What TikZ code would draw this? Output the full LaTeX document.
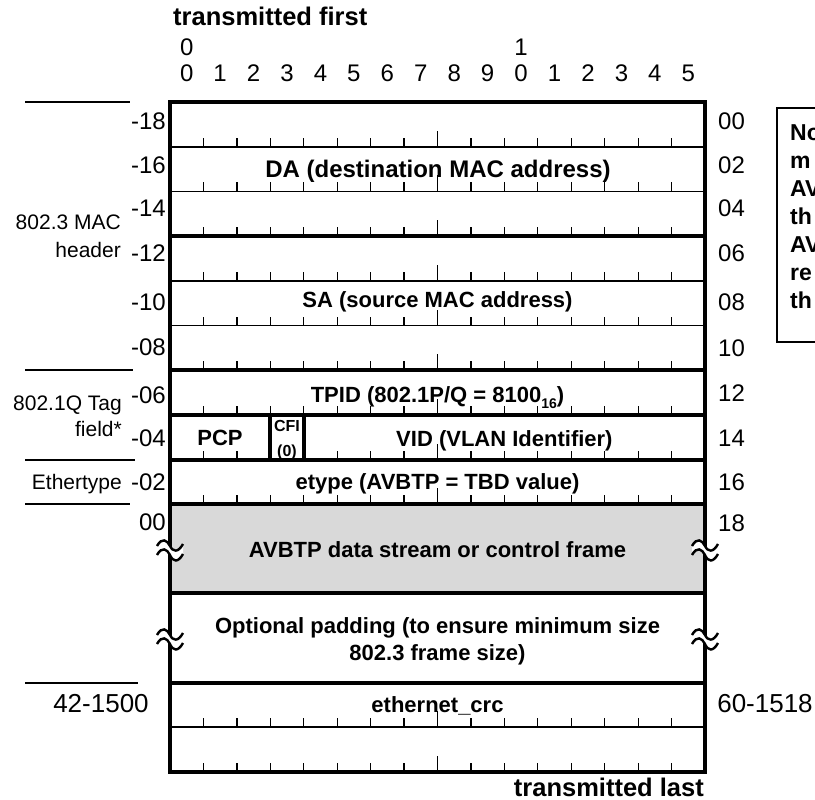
\documentclass[tikz,border=0pt]{standalone}
\usepackage{fontspec}
\setmainfont{Liberation Sans}
\begin{document}
\begin{tikzpicture}[x=1pt,y=-1pt,
  heavy/.style={line width=4pt},
  light/.style={line width=1.7pt},
  tickmark/.style={line width=1.3pt},
  sideline/.style={line width=2pt},
  field/.style={font=\fontsize{22}{26}\selectfont\bfseries, inner sep=0pt, anchor=base},
  numtxt/.style={font=\fontsize{24}{28}\selectfont, inner sep=0pt},
  bignum/.style={font=\fontsize{26}{30}\selectfont, inner sep=0pt, anchor=base},
  sidetxt/.style={font=\fontsize{21}{25}\selectfont, inner sep=0pt, anchor=base east},
  endtxt/.style={font=\fontsize{25.5}{30}\selectfont\bfseries, inner sep=0pt},
  notetxt/.style={font=\fontsize{23}{27}\selectfont\bfseries, inner sep=0pt, anchor=base west},
  cfitxt/.style={font=\fontsize{16}{18}\selectfont\bfseries, inner sep=0pt, anchor=base},
  brkmark/.pic={
    \fill[white] (-13,-5) .. controls (-8,-14) and (-3,-11) .. (0,-5) .. controls (3,1) and (8,2) .. (13,-7)
      -- (13,3) .. controls (8,12) and (3,11) .. (0,4) .. controls (-3,-2) and (-8,-4) .. (-13,4) -- cycle;
    \draw[line width=2.4pt] (-13,-5) .. controls (-8,-14) and (-3,-11) .. (0,-5) .. controls (3,1) and (8,2) .. (13,-7);
    \draw[line width=2.4pt] (-13,4) .. controls (-8,-5) and (-3,-2) .. (0,4) .. controls (3,11) and (8,12) .. (13,3);
  }
]
\useasboundingbox (0,0) rectangle (815,800);
\clip (0,0) rectangle (815,800);

% gray payload
\fill[black!15] (170,504.3) rectangle (705,593.3);

% ticks
\foreach \yb in {146.7,191.4,236.1,280.8,325.5,370.2,414.9,504.3,727.3,772} {
  \foreach \k in {1,...,15} {
    \pgfmathsetmacro{\th}{ifthenelse(\k==8,16,9)}
    \draw[tickmark] ({170+33.44*\k},\yb) -- ++(0,-\th);
  }
}
\foreach \k in {1,2,5,6,7,8,9,10,11,12,13,14,15} {
  \pgfmathsetmacro{\th}{ifthenelse(\k==8,16,9)}
  \draw[tickmark] ({170+33.44*\k},459.6) -- ++(0,-\th);
}

% thin row lines
\foreach \yy in {146.7,191.4,280.8,325.5,727.3}
  \draw[light] (170,\yy) -- (705,\yy);
% thick row lines
\foreach \yy in {236.1,370.2,414.9,459.6,504.3,593.3,682.7}
  \draw[heavy] (170,\yy) -- (705,\yy);
% CFI separators
\draw[heavy] (270.3,414.9) -- (270.3,459.6);
\draw[heavy] (303.8,414.9) -- (303.8,459.6);
% frame
\draw[heavy] (170,102) rectangle (705,772);

% break marks
\pic at (170,551) {brkmark};
\pic at (705,551) {brkmark};
\pic at (170,640) {brkmark};
\pic at (705,640) {brkmark};

% side lines
\draw[sideline] (25,102) -- (130,102);
\draw[sideline] (25,370.2) -- (133,370.2);
\draw[sideline] (25,459.6) -- (135,459.6);
\draw[sideline] (25,504.3) -- (130,504.3);
\draw[sideline] (25,682.7) -- (138,682.7);

% headings
\node[endtxt, anchor=base west] (tfirst) at (173,26) {transmitted first};
\node[endtxt, anchor=base east] (tlast) at (704,796) {transmitted last};

% bit numbers
\node[numtxt, anchor=base] (tens0) at (186.7,56) {0};
\node[numtxt, anchor=base] (tens1) at (521.1,56) {1};
\foreach \k in {0,...,15} {
  \pgfmathtruncatemacro{\dg}{mod(\k,10)}
  \node[numtxt, anchor=base] (bit\k) at ({186.7+33.44*\k},82) {\dg};
}

% left offsets
\node[numtxt, anchor=base east] (l18) at (166,130) {-18};
\node[numtxt, anchor=base east] (l16) at (166,173) {-16};
\node[numtxt, anchor=base east] (l14) at (166,216) {-14};
\node[numtxt, anchor=base east] (l12) at (166,261) {-12};
\node[numtxt, anchor=base east] (l10) at (166,310) {-10};
\node[numtxt, anchor=base east] (l08) at (166,355) {-08};
\node[numtxt, anchor=base east] (l06) at (166,403) {-06};
\node[numtxt, anchor=base east] (l04) at (166,446) {-04};
\node[numtxt, anchor=base east] (l02) at (166,490) {-02};
\node[numtxt, anchor=base east] (l00) at (166,530) {00};
\node[bignum] (lend) at (101,712) {42-1500};

% right offsets
\node[numtxt, anchor=base west] (r00) at (718,130) {00};
\node[numtxt, anchor=base west] (r02) at (718,173) {02};
\node[numtxt, anchor=base west] (r04) at (718,216) {04};
\node[numtxt, anchor=base west] (r06) at (718,261) {06};
\node[numtxt, anchor=base west] (r08) at (718,310) {08};
\node[numtxt, anchor=base west] (r10) at (718,356) {10};
\node[numtxt, anchor=base west] (r12) at (718,401) {12};
\node[numtxt, anchor=base west] (r14) at (718,446) {14};
\node[numtxt, anchor=base west] (r16) at (718,490) {16};
\node[numtxt, anchor=base west] (r18) at (718,531) {18};
\node[bignum] (rend) at (765,712) {60-1518};

% side group labels
\node[sidetxt] (mac1) at (121,229) {802.3 MAC};
\node[sidetxt] (mac2) at (121,257) {header};
\node[sidetxt] (tag1) at (122,410) {802.1Q Tag};
\node[sidetxt] (tag2) at (122,436) {field*};
\node[sidetxt] (ethl) at (122,489) {Ethertype};

% field labels
\node[field, font=\fontsize{24}{28}\selectfont\bfseries] (da) at (438,178) {DA (destination MAC address)};
\node[field] (sa) at (437.5,307) {SA (source MAC address)};
\node[field] (tpid) at (437.5,402) {TPID (802.1P/Q = 8100\raisebox{-0.3em}{\fontsize{14}{14}\selectfont 16})};
\node[field] (pcp) at (220,445) {PCP};
\node[cfitxt] (cfi) at (287,431) {CFI};
\node[cfitxt] (cfiv) at (287,456) {(0)};
\node[field] (vid) at (504.4,446) {VID (VLAN Identifier)};
\node[field] (etype) at (437.5,489) {etype (AVBTP = TBD value)};
\node[field] (payload) at (437.5,557) {AVBTP data stream or control frame};
\node[field] (pad1) at (437.5,633) {Optional padding (to ensure minimum size};
\node[field] (pad2) at (437.5,660) {802.3 frame size)};
\node[field] (crc) at (437.5,712) {ethernet\_crc};

% note box (cut off at the right edge, as in the original)
\draw[sideline] (777,108) rectangle (850,342);
\node[notetxt] (n1) at (790,140) {No};
\node[notetxt] (n2) at (790,168) {m};
\node[notetxt] (n3) at (790,196) {AV};
\node[notetxt] (n4) at (790,224) {th};
\node[notetxt] (n5) at (790,252) {AV};
\node[notetxt] (n6) at (790,280) {re};
\node[notetxt] (n7) at (790,308) {th};
\end{tikzpicture}
\end{document}
